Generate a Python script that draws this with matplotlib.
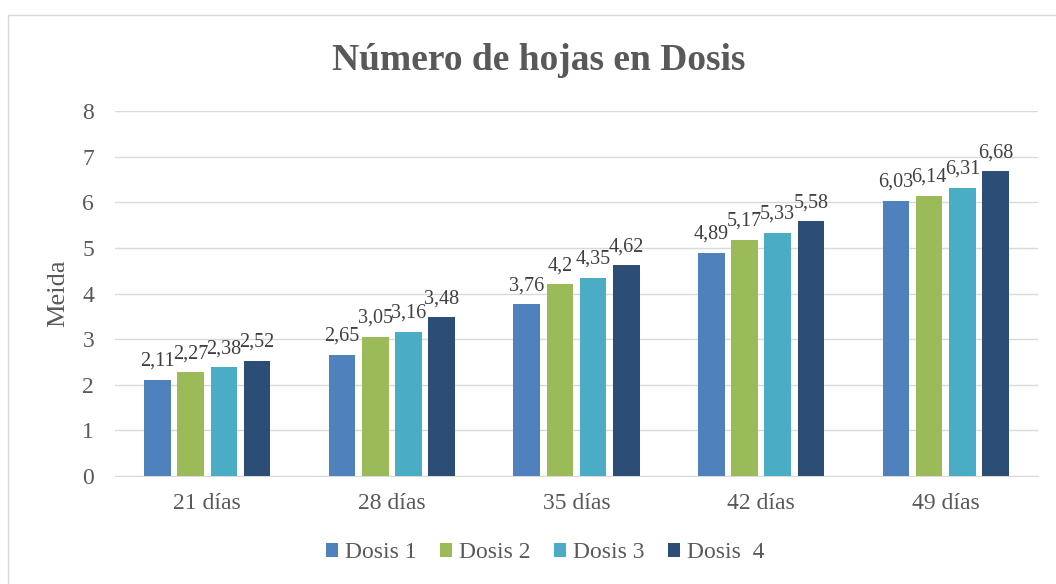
import matplotlib.pyplot as plt
import matplotlib.patches as mpatches
import numpy as np

plt.rcParams['font.family'] = ['Liberation Serif', 'DejaVu Serif']

categories = ['21 días', '28 días', '35 días', '42 días', '49 días']
series = ['Dosis 1', 'Dosis 2', 'Dosis 3', 'Dosis  4']
dosis1 = [2.11, 2.65, 3.76, 4.89, 6.03]
dosis2 = [2.27, 3.05, 4.2, 5.17, 6.14]
dosis3 = [2.38, 3.16, 4.35, 5.33, 6.31]
dosis4 = [2.52, 3.48, 4.62, 5.58, 6.68]
colors = ['#4F81BD', '#9BBB59', '#4BACC6', '#2C4D75']
txt = '#595959'

fig = plt.figure(figsize=(10.56, 5.84), dpi=100)
fig.patches.append(mpatches.Rectangle((8 / 1056, -0.1), 1.2, 1 - 15 / 584 + 0.1,
                                      transform=fig.transFigure, fill=False,
                                      edgecolor='#D9D9D9', linewidth=1))
ax = fig.add_axes([115 / 1056, 1 - 476 / 584, 923 / 1056, 365 / 584])

x = np.arange(len(categories))
step = 0.18
width = 0.144
for i, (vals, name) in enumerate(zip([dosis1, dosis2, dosis3, dosis4], series)):
    pos = x + (i - 1.5) * step
    ax.bar(pos, vals, width, color=colors[i], label=name, zorder=3)
    for px, v in zip(pos, vals):
        ax.text(px, v + 0.2, f'{v:g}'.replace('.', ','), ha='center', va='bottom',
                fontsize=14.5, color='#404040')

ax.set_xlim(-0.5, len(categories) - 0.5)
ax.set_ylim(0, 8)
ax.set_yticks(range(0, 9))
ax.set_xticks(x)
ax.set_xticklabels(categories)
ax.tick_params(axis='both', length=0, labelsize=17, colors=txt)
ax.tick_params(axis='x', pad=12)
ax.tick_params(axis='y', pad=15)
ax.grid(axis='y', color='#D9D9D9', linewidth=1, zorder=0)
for s in ['top', 'right', 'left']:
    ax.spines[s].set_visible(False)
ax.spines['bottom'].set_color('#D9D9D9')
ax.set_ylabel('Meida', fontsize=19, color=txt)
ax.yaxis.set_label_coords(69 / 1056, 1 - 293 / 584, transform=fig.transFigure)

fig.text(539 / 1056, 1 - 60 / 584, 'Número de hojas en Dosis', ha='center', va='center',
         fontsize=27, fontweight='bold', color=txt)

ax.legend(loc='center', bbox_to_anchor=(545 / 1056, 1 - 553 / 584),
          bbox_transform=fig.transFigure, ncol=4, frameon=False, fontsize=17,
          handlelength=0.5, handleheight=0.5, handletextpad=0.3, columnspacing=1.0,
          labelcolor=txt)

fig.savefig('out.png', dpi=100)
